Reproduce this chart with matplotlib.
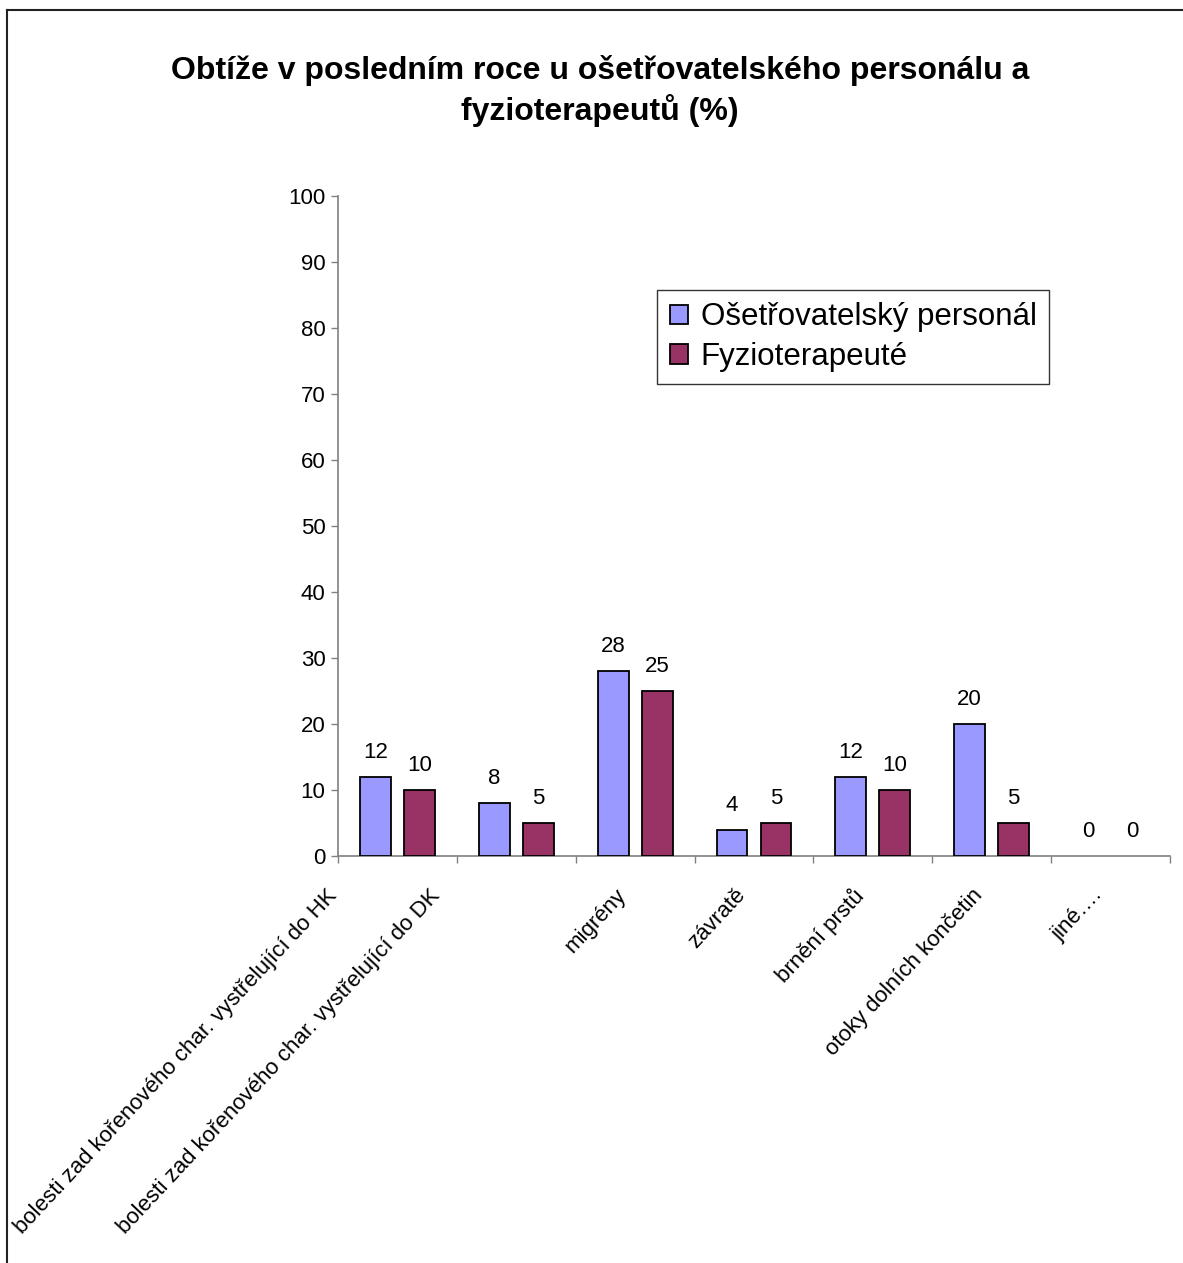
import matplotlib

matplotlib.use("Agg")
import matplotlib.pyplot as plt
import matplotlib.transforms as mtransforms
import numpy as np
from matplotlib.lines import Line2D

plt.rcParams["font.family"] = ["Liberation Sans", "DejaVu Sans"]

TITLE = "Obtíže v posledním roce u ošetřovatelského personálu a\nfyzioterapeutů (%)"
categories = [
    "bolesti zad kořenového char. vystřelující do HK",
    "bolesti zad kořenového char. vystřelující do DK",
    "migrény",
    "závratě",
    "brnění prstů",
    "otoky dolních končetin",
    "jiné….",
]
series_names = ["Ošetřovatelský personál", "Fyzioterapeuté"]
nurses = [12, 8, 28, 4, 12, 20, 0]
physio = [10, 5, 25, 5, 10, 5, 0]
yticks = list(range(0, 101, 10))

COLORS = ["#9999FF", "#993366"]
AXIS_GREY = "#808080"
# per-label horizontal shift (px) of the rotated category labels
LABEL_SHIFT = [-64, -80, -12, -12, -12, -12, -12]

W, H, DPI = 1183, 1263, 100
fig = plt.figure(figsize=(W / DPI, H / DPI), dpi=DPI)
ax = fig.add_axes([338 / W, 1 - 856 / H, (1170 - 338) / W, (856 - 196) / H])

x = np.arange(len(categories))
for k, (vals, off) in enumerate([(nurses, -0.185), (physio, 0.185)]):
    bars = ax.bar(x + off, vals, width=0.26, color=COLORS[k], edgecolor="black",
                  linewidth=1.3, label=series_names[k], zorder=3)
    for b, v in zip(bars, vals):
        if v == 0:
            b.set_linewidth(0)  # empty bar: no outline, only the label
        ax.annotate(f"{v}", (b.get_x() + b.get_width() / 2, v), xytext=(0, 13.5),
                    textcoords="offset points", ha="center", va="baseline",
                    fontsize=16)

ax.set_xlim(-0.5, len(categories) - 0.5)
ax.set_ylim(0, 100)
ax.set_yticks(yticks)
ax.tick_params(axis="y", labelsize=16, length=5, width=1, color=AXIS_GREY, pad=4)

ax.set_xticks(x)
ax.set_xticklabels(categories, rotation=47, ha="right", va="center",
                   rotation_mode="anchor", fontsize=16)
ax.set_xticks(np.arange(len(categories) + 1) - 0.5, minor=True)
ax.tick_params(axis="x", which="major", length=0, pad=26)
ax.tick_params(axis="x", which="minor", length=5, width=1, color=AXIS_GREY)
for lab, dx in zip(ax.get_xticklabels(), LABEL_SHIFT):
    lab.set_transform(lab.get_transform()
                      + mtransforms.ScaledTranslation(dx / DPI, 0, fig.dpi_scale_trans))

for side in ("top", "right"):
    ax.spines[side].set_visible(False)
for side in ("left", "bottom"):
    ax.spines[side].set_color(AXIS_GREY)
    ax.spines[side].set_linewidth(1.2)

leg = ax.legend(loc="upper left", bbox_to_anchor=(657 / W, 1 - 290 / H),
                bbox_transform=fig.transFigure, fontsize=22.5, frameon=True,
                fancybox=False, edgecolor="black", handlelength=0.6,
                handleheight=0.6, handletextpad=0.4, borderpad=0.4,
                labelspacing=0.3, borderaxespad=0)
leg.get_frame().set_linewidth(1.0)

fig.text(600 / W, 1 - 55 / H, TITLE, ha="center", va="top", fontsize=23,
         fontweight="bold", linespacing=1.3)

# outer chart frame (only top and left edges visible in the crop)
fig.add_artist(Line2D([7 / W, 7 / W], [0, 1 - 10 / H], color="#222222", lw=1.5))
fig.add_artist(Line2D([7 / W, 1], [1 - 10 / H, 1 - 10 / H], color="#222222", lw=1.5))

fig.savefig("out.png", dpi=DPI, facecolor="white")
